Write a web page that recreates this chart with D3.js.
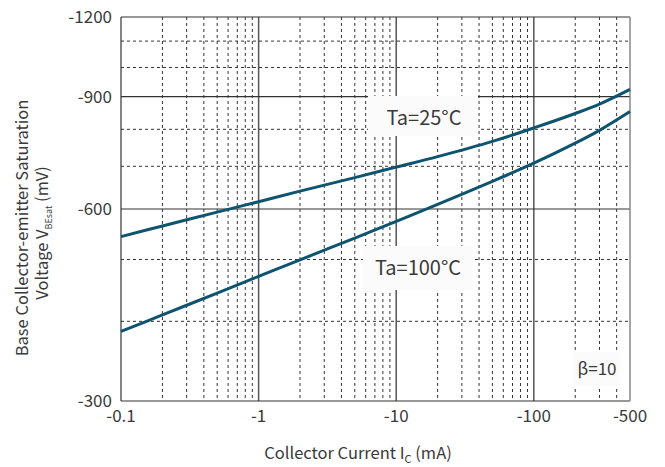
<!DOCTYPE html>
<html><head><meta charset="utf-8">
<script src="https://cdn.jsdelivr.net/npm/d3@7"></script>
<style>body{margin:0;background:#fff}svg{display:block}text{font-family:"Noto Sans CJK JP","Noto Sans",sans-serif;fill:#3a3a3a}</style>
</head><body>
<script>
const current = [0.1, 0.2, 0.5, 1, 2, 5, 10, 20, 50, 100, 200, 300, 500];
const vbe25 = [543, 564.3, 593.2, 616, 640, 672, 698, 725, 766, 804, 847, 876, 924];
const vbe100 = [385.7, 409.3, 443, 470.4, 499.4, 540.3, 574, 610, 663, 708, 761, 797, 853];
const xTicks = [0.1, 1, 10, 100, 500];
const xTickLabels = ["-0.1", "-1", "-10", "-100", "-500"];
const yTicks = [300, 600, 900, 1200];
const yTickLabels = ["-300", "-600", "-900", "-1200"];
const yMinor = [400, 500, 700, 800, 1000, 1100];
const xMinor = [];
[0.1, 1, 10].forEach(d => { for (let k = 2; k <= 9; k++) xMinor.push(d * k); });
[200, 300, 400].forEach(v => xMinor.push(v));

const W = 665, H = 467;
const m = {l: 121, r: 630, t: 17, b: 401};
const svg = d3.select("body").append("svg").attr("width", W).attr("height", H);
const x = d3.scaleLog().domain([0.1, 500]).range([m.l, m.r]);
const y = d3.scaleLog().domain([300, 1200]).range([m.b, m.t]);

const g = svg.append("g");
g.selectAll(".vx").data(xMinor).join("line")
  .attr("x1", d => x(d)).attr("x2", d => x(d)).attr("y1", m.t).attr("y2", m.b)
  .attr("stroke", "#333").attr("stroke-width", 1).attr("stroke-dasharray", "3,3");
g.selectAll(".hy").data(yMinor).join("line")
  .attr("y1", d => y(d)).attr("y2", d => y(d)).attr("x1", m.l).attr("x2", m.r)
  .attr("stroke", "#333").attr("stroke-width", 1).attr("stroke-dasharray", "3,3");
g.selectAll(".mx").data([1, 10, 100]).join("line")
  .attr("x1", d => x(d)).attr("x2", d => x(d)).attr("y1", m.t).attr("y2", m.b)
  .attr("stroke", "#555").attr("stroke-width", 1.5);
g.selectAll(".my").data([600, 900]).join("line")
  .attr("y1", d => y(d)).attr("y2", d => y(d)).attr("x1", m.l).attr("x2", m.r)
  .attr("stroke", "#333").attr("stroke-width", 1.2);

const boxes = [
  {x: 368, y: 96, w: 110, h: 40},
  {x: 363, y: 246, w: 109, h: 44},
  {x: 573, y: 352, w: 47, h: 34}
];
g.selectAll(".box").data(boxes).join("rect")
  .attr("x", d => d.x).attr("y", d => d.y).attr("width", d => d.w).attr("height", d => d.h)
  .attr("fill", "#fbfbfb");

g.append("line").attr("x1", m.l).attr("x2", m.r).attr("y1", m.t).attr("y2", m.t).attr("stroke", "#333").attr("stroke-width", 1.2);
g.append("line").attr("x1", m.l).attr("x2", m.r).attr("y1", m.b).attr("y2", m.b).attr("stroke", "#333").attr("stroke-width", 1.2);
g.append("line").attr("x1", m.l).attr("x2", m.l).attr("y1", m.t).attr("y2", m.b).attr("stroke", "#333").attr("stroke-width", 1.2);
g.append("line").attr("x1", m.r).attr("x2", m.r).attr("y1", m.t).attr("y2", m.b).attr("stroke", "#888").attr("stroke-width", 1.5);

const line = d3.line().x(d => x(d[0])).y(d => y(d[1])).curve(d3.curveCatmullRom.alpha(0.5));
[vbe25, vbe100].forEach(s => {
  g.append("path").datum(current.map((c, i) => [c, s[i]]))
    .attr("d", line).attr("fill", "none").attr("stroke", "#0e5470").attr("stroke-width", 3);
});

svg.append("text").attr("x", 424).attr("y", 125).attr("text-anchor", "middle").attr("font-size", 20).text("Ta=25°C");
svg.append("text").attr("x", 418).attr("y", 275).attr("text-anchor", "middle").attr("font-size", 20).text("Ta=100°C");
svg.append("text").attr("x", 597).attr("y", 375).attr("text-anchor", "middle").attr("font-size", 17).text("β=10");

svg.selectAll(".yt").data(yTicks).join("text")
  .attr("x", 112).attr("y", d => y(d)).attr("dy", "0.35em").attr("text-anchor", "end")
  .attr("font-size", 17).text((d, i) => yTickLabels[i]);
svg.selectAll(".xt").data(xTicks).join("text")
  .attr("x", d => x(d)).attr("y", 422).attr("text-anchor", "middle")
  .attr("font-size", 17).text((d, i) => xTickLabels[i]);

const xt = svg.append("text").attr("x", 358).attr("y", 459).attr("text-anchor", "middle").attr("font-size", 16.5);
xt.append("tspan").text("Collector Current  I");
xt.append("tspan").attr("font-size", 11).attr("dy", 4).text("C");
xt.append("tspan").attr("dy", -4).text(" (mA)");

svg.append("text").attr("transform", "translate(28,228) rotate(-90)").attr("text-anchor", "middle")
  .attr("font-size", 16.5).text("Base Collector-emitter Saturation");
const yt2 = svg.append("text").attr("transform", "translate(48,233) rotate(-90)").attr("text-anchor", "middle").attr("font-size", 16.5);
yt2.append("tspan").text("Voltage V");
yt2.append("tspan").attr("font-size", 9).attr("dy", 4).text("BEsat");
yt2.append("tspan").attr("dy", -4).text(" (mV)");
</script>
</body></html>
